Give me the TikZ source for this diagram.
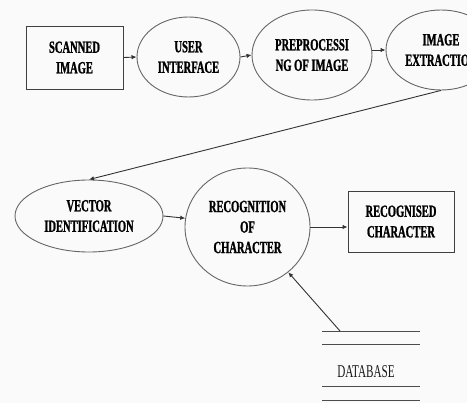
\documentclass[tikz,border=0pt]{standalone}
\usepackage{fontspec}
\setmainfont{Liberation Serif}[
  FakeStretch=0.62,
  BoldFont={Liberation Serif Bold},
  BoldFeatures={FakeBold=1.2}]
\usetikzlibrary{shapes.geometric,arrows.meta}

\tikzset{
  lbl/.style={font=\fontsize{17}{20.5}\selectfont\bfseries, align=center, text=black},
  procbox/.style={lbl, draw=black!75, line width=0.9pt, rectangle, inner sep=0pt},
  proc/.style={lbl, draw=black!60, line width=0.9pt, ellipse, inner sep=0pt},
  flow/.style={draw=black!80, line width=0.9pt, -{Latex[length=5pt,width=4.5pt]}},
  dbline/.style={draw=black!70, line width=0.9pt}
}

\begin{document}
\begin{tikzpicture}[x=1pt, y=-1pt]
  \useasboundingbox (0,0) rectangle (467,403);
  \fill[black!2] (0,0) rectangle (467,403);
  \clip (0,0) rectangle (467,403);

  % top row
  \node[procbox, minimum width=97pt, minimum height=63pt] (scan) at (74.5,57.5) {SCANNED\\IMAGE};
  \node[proc, minimum width=103pt, minimum height=80pt] (user) at (188.5,57) {USER\\INTERFACE};
  \node[proc, minimum width=120pt, minimum height=90pt] (pre) at (312,55) {PREPROCESSI\\NG OF IMAGE};
  \node[proc, minimum width=110pt, minimum height=80pt] (imgx) at (441,50) {IMAGE\\EXTRACTION};

  % second row
  \node[proc, minimum width=148pt, minimum height=72pt] (vec) at (89,216) {VECTOR\\IDENTIFICATION};
  \node[proc, minimum width=125pt, minimum height=118pt] (recog) at (247.5,227) {RECOGNITION\\OF\\CHARACTER};
  \node[procbox, minimum width=106pt, minimum height=61pt] (res) at (401,221.5) {RECOGNISED\\CHARACTER};

  % data store
  \node[font=\fontsize{18}{20}\selectfont, text=black!90] (db) at (366,372) {DATABASE};
  \coordinate (dbtop) at (340,331);
  \draw[dbline] (322,331) -- (420,331);
  \draw[dbline] (322,344) -- (420,344);
  \draw[dbline] (322,386) -- (420,386);
  \draw[dbline] (322,400) -- (420,400);

  % connectors
  \draw[flow] (scan.east) -- (user.west);
  \draw[flow] (user.east) -- (pre.west);
  \draw[flow] (pre.east |- imgx.west) -- (imgx.west);
  \draw[flow] (imgx.south) -- (vec.north);
  \draw[flow] (vec.east) -- (recog.172);
  \draw[flow] (recog.east) -- (recog.east -| res.west);
  \draw[flow] (dbtop) -- (recog.-48);
\end{tikzpicture}
\end{document}
